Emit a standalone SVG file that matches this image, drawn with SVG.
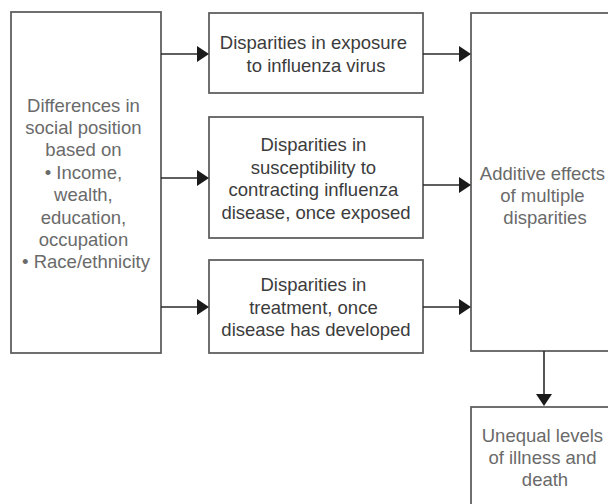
<svg xmlns="http://www.w3.org/2000/svg" width="608" height="504" viewBox="0 0 608 504">
<style>
  .box { fill: #ffffff; stroke: #606060; stroke-width: 1.8; }
  .t { font-family: "Liberation Sans", Arial, sans-serif; font-size: 18.5px; text-anchor: middle; }
  .lt { fill: #6a6a6a; }
  .dk { fill: #3c3c3c; }
  .conn { stroke: #2a2a2a; stroke-width: 1.6; fill: none; }
  .head { fill: #1a1a1a; }
</style>
<rect width="608" height="504" fill="#ffffff"/>

<g id="social-position">
  <rect class="box" x="11" y="12" width="150" height="341"/>
  <text class="t lt" x="86">
    <tspan x="86" y="111.5">Differences in</tspan>
    <tspan x="86" y="133.9">social position</tspan>
    <tspan x="86" y="156.3">based on</tspan>
    <tspan x="86" y="178.7">• Income,</tspan>
    <tspan x="86" y="201.1">wealth,</tspan>
    <tspan x="86" y="223.5">education,</tspan>
    <tspan x="86" y="245.9">occupation</tspan>
    <tspan x="86" y="268.3">• Race/ethnicity</tspan>
  </text>
</g>

<g id="exposure">
  <rect class="box" x="209" y="13" width="214" height="80"/>
  <text class="t dk">
    <tspan x="316" y="49">Disparities in exposure</tspan>
    <tspan x="316" y="71.5">to influenza virus</tspan>
  </text>
</g>

<g id="susceptibility">
  <rect class="box" x="209" y="117" width="214" height="121"/>
  <text class="t dk">
    <tspan x="316" y="151">Disparities in</tspan>
    <tspan x="316" y="173.5">susceptibility to</tspan>
    <tspan x="316" y="196">contracting influenza</tspan>
    <tspan x="316" y="218.5">disease, once exposed</tspan>
  </text>
</g>

<g id="treatment">
  <rect class="box" x="209" y="260" width="214" height="93"/>
  <text class="t dk">
    <tspan x="316" y="291.3">Disparities in</tspan>
    <tspan x="316" y="313.7">treatment, once</tspan>
    <tspan x="316" y="336.1">disease has developed</tspan>
  </text>
</g>

<g id="additive">
  <rect class="box" x="471" y="13" width="148" height="338"/>
  <text class="t lt">
    <tspan x="545" y="179.5">Additive effects</tspan>
    <tspan x="545" y="201.9">of multiple</tspan>
    <tspan x="545" y="224.3">disparities</tspan>
  </text>
</g>

<g id="outcome">
  <rect class="box" x="471" y="407" width="148" height="110"/>
  <text class="t lt">
    <tspan x="545" y="441.5">Unequal levels</tspan>
    <tspan x="545" y="463.9">of illness and</tspan>
    <tspan x="545" y="486.3">death</tspan>
  </text>
</g>

<g id="connectors">
  <line class="conn" x1="161" y1="54" x2="198" y2="54"/>
  <polygon class="head" points="197,46 209,54 197,62"/>
  <line class="conn" x1="161" y1="178" x2="198" y2="178"/>
  <polygon class="head" points="197,170 209,178 197,186"/>
  <line class="conn" x1="161" y1="307" x2="198" y2="307"/>
  <polygon class="head" points="197,299 209,307 197,315"/>

  <line class="conn" x1="423" y1="54" x2="460" y2="54"/>
  <polygon class="head" points="459,46 471,54 459,62"/>
  <line class="conn" x1="423" y1="185" x2="460" y2="185"/>
  <polygon class="head" points="459,177 471,185 459,193"/>
  <line class="conn" x1="423" y1="307" x2="460" y2="307"/>
  <polygon class="head" points="459,299 471,307 459,315"/>

  <line class="conn" x1="544" y1="351" x2="544" y2="395"/>
  <polygon class="head" points="536,394 552,394 544,406"/>
</g>
</svg>
